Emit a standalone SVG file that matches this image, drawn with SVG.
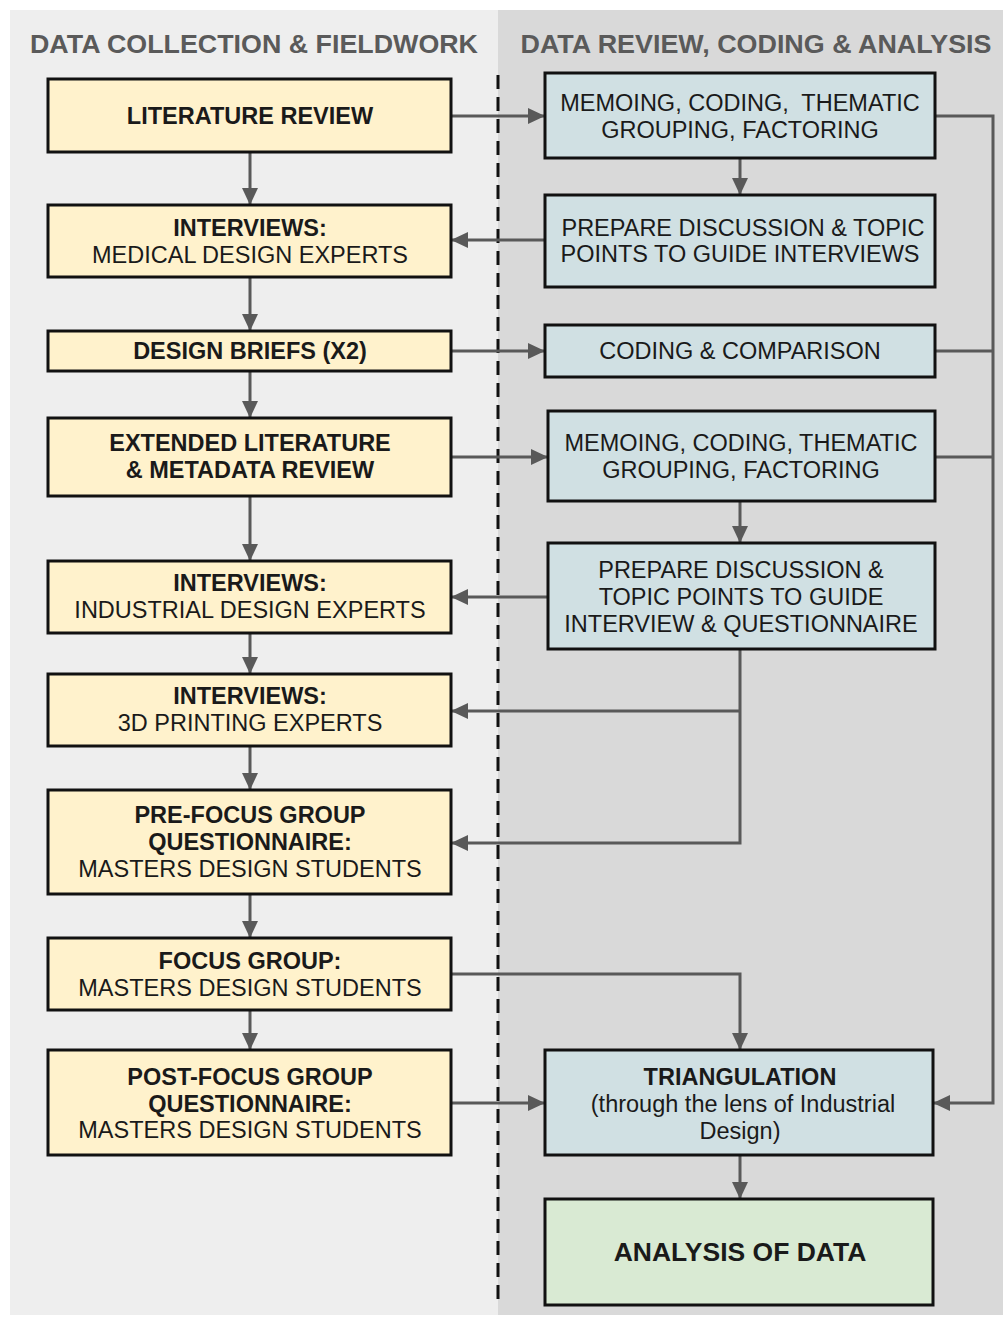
<svg xmlns="http://www.w3.org/2000/svg" width="1003" height="1319" viewBox="0 0 1003 1319">
  <style>
    .hdr { font-family: "Liberation Sans", Arial, sans-serif; font-weight: bold; font-size: 26px; fill: #5a5a5a; text-anchor: middle; }
    .box { stroke: #111; stroke-width: 3; }
    .yel { fill: #fff2cc; }
    .blu { fill: #d0e0e3; }
    .grn { fill: #d9ead3; }
    .t { font-family: "Liberation Sans", Arial, sans-serif; font-size: 23.5px; fill: #1a1a1a; text-anchor: middle; }
    .b { font-weight: bold; }
    .big { font-size: 26.5px; font-weight: bold; }
    .ln { fill: none; stroke: #595959; stroke-width: 3; }
    .arr { marker-end: url(#ah); }
  </style>
  <defs>
    <marker id="ah" markerUnits="userSpaceOnUse" markerWidth="18" markerHeight="18" refX="17" refY="9" orient="auto">
      <path d="M0,1 L17,9 L0,17 Z" fill="#595959"/>
    </marker>
  </defs>

  <!-- panels -->
  <rect x="0" y="0" width="1003" height="1319" fill="#ffffff"/>
  <rect x="10" y="10" width="488" height="1305" fill="#eeeeee"/>
  <rect x="498" y="10" width="505" height="1305" fill="#d9d9d9"/>
  <line x1="498" y1="75" x2="498" y2="1300" stroke="#111" stroke-width="3" stroke-dasharray="14 8"/>

  <text class="hdr" x="254" y="53" textLength="448" lengthAdjust="spacingAndGlyphs">DATA COLLECTION &amp; FIELDWORK</text>
  <text class="hdr" x="756" y="53" textLength="471" lengthAdjust="spacingAndGlyphs">DATA REVIEW, CODING &amp; ANALYSIS</text>

  <!-- connectors -->
  <g id="connectors">
    <path class="ln arr" d="M451,116 H545"/>
    <path class="ln arr" d="M250,152 V205"/>
    <path class="ln arr" d="M740,158 V195"/>
    <path class="ln arr" d="M545,240 H451"/>
    <path class="ln arr" d="M250,277 V331"/>
    <path class="ln arr" d="M451,351 H545"/>
    <path class="ln arr" d="M250,371 V418"/>
    <path class="ln arr" d="M451,457 H548"/>
    <path class="ln arr" d="M740,501 V543"/>
    <path class="ln arr" d="M548,597 H451"/>
    <path class="ln arr" d="M250,496 V561"/>
    <path class="ln arr" d="M250,633 V674"/>
    <path class="ln arr" d="M740,649 V843 H451"/>
    <path class="ln arr" d="M740,711 H451"/>
    <path class="ln arr" d="M250,746 V790"/>
    <path class="ln arr" d="M250,894 V938"/>
    <path class="ln arr" d="M451,974 H740 V1050"/>
    <path class="ln arr" d="M250,1010 V1050"/>
    <path class="ln arr" d="M451,1103 H545"/>
    <path class="ln arr" d="M935,116 H993 V1103 H933"/>
    <path class="ln" d="M935,351 H993"/>
    <path class="ln" d="M935,457 H993"/>
    <path class="ln arr" d="M740,1155 V1199"/>
  </g>

  <!-- data collection & fieldwork -->
  <g id="lit-review">
    <rect class="box yel" x="48" y="79" width="403" height="73"/>
    <text class="t b" x="250" y="124">LITERATURE REVIEW</text>
  </g>
  <g id="interviews-medical">
    <rect class="box yel" x="48" y="205" width="403" height="72"/>
    <text class="t b" x="250" y="236">INTERVIEWS:</text>
    <text class="t" x="250" y="263">MEDICAL DESIGN EXPERTS</text>
  </g>
  <g id="design-briefs">
    <rect class="box yel" x="48" y="331" width="403" height="40"/>
    <text class="t b" x="250" y="359">DESIGN BRIEFS (X2)</text>
  </g>
  <g id="extended-review">
    <rect class="box yel" x="48" y="418" width="403" height="78"/>
    <text class="t b" x="250" y="451">EXTENDED LITERATURE</text>
    <text class="t b" x="250" y="478">&amp; METADATA REVIEW</text>
  </g>
  <g id="interviews-industrial">
    <rect class="box yel" x="48" y="561" width="403" height="72"/>
    <text class="t b" x="250" y="591">INTERVIEWS:</text>
    <text class="t" x="250" y="618">INDUSTRIAL DESIGN EXPERTS</text>
  </g>
  <g id="interviews-3d">
    <rect class="box yel" x="48" y="674" width="403" height="72"/>
    <text class="t b" x="250" y="704">INTERVIEWS:</text>
    <text class="t" x="250" y="731">3D PRINTING EXPERTS</text>
  </g>
  <g id="pre-focus">
    <rect class="box yel" x="48" y="790" width="403" height="104"/>
    <text class="t b" x="250" y="823">PRE-FOCUS GROUP</text>
    <text class="t b" x="250" y="850">QUESTIONNAIRE:</text>
    <text class="t" x="250" y="877">MASTERS DESIGN STUDENTS</text>
  </g>
  <g id="focus-group">
    <rect class="box yel" x="48" y="938" width="403" height="72"/>
    <text class="t b" x="250" y="969">FOCUS GROUP:</text>
    <text class="t" x="250" y="996">MASTERS DESIGN STUDENTS</text>
  </g>
  <g id="post-focus">
    <rect class="box yel" x="48" y="1050" width="403" height="105"/>
    <text class="t b" x="250" y="1085">POST-FOCUS GROUP</text>
    <text class="t b" x="250" y="1112">QUESTIONNAIRE:</text>
    <text class="t" x="250" y="1138">MASTERS DESIGN STUDENTS</text>
  </g>

  <!-- data review, coding & analysis -->
  <g id="memoing-1">
    <rect class="box blu" x="545" y="73" width="390" height="85"/>
    <text class="t" x="740" y="111" xml:space="preserve">MEMOING, CODING,  THEMATIC</text>
    <text class="t" x="740" y="138">GROUPING, FACTORING</text>
  </g>
  <g id="prepare-1">
    <rect class="box blu" x="545" y="195" width="390" height="92"/>
    <text class="t" x="743" y="236">PREPARE DISCUSSION &amp; TOPIC</text>
    <text class="t" x="740" y="262">POINTS TO GUIDE INTERVIEWS</text>
  </g>
  <g id="coding-comparison">
    <rect class="box blu" x="545" y="325" width="390" height="52"/>
    <text class="t" x="740" y="359">CODING &amp; COMPARISON</text>
  </g>
  <g id="memoing-2">
    <rect class="box blu" x="548" y="411" width="387" height="90"/>
    <text class="t" x="741" y="451">MEMOING, CODING, THEMATIC</text>
    <text class="t" x="741" y="478">GROUPING, FACTORING</text>
  </g>
  <g id="prepare-2">
    <rect class="box blu" x="548" y="543" width="387" height="106"/>
    <text class="t" x="741" y="578">PREPARE DISCUSSION &amp;</text>
    <text class="t" x="741" y="605">TOPIC POINTS TO GUIDE</text>
    <text class="t" x="741" y="632">INTERVIEW &amp; QUESTIONNAIRE</text>
  </g>
  <g id="triangulation">
    <rect class="box blu" x="545" y="1050" width="388" height="105"/>
    <text class="t b" x="740" y="1085">TRIANGULATION</text>
    <text class="t" x="743" y="1112">(through the lens of Industrial</text>
    <text class="t" x="740" y="1139">Design)</text>
  </g>
  <g id="analysis">
    <rect class="box grn" x="545" y="1199" width="388" height="106"/>
    <text class="t big" x="740" y="1261">ANALYSIS OF DATA</text>
  </g>
</svg>
